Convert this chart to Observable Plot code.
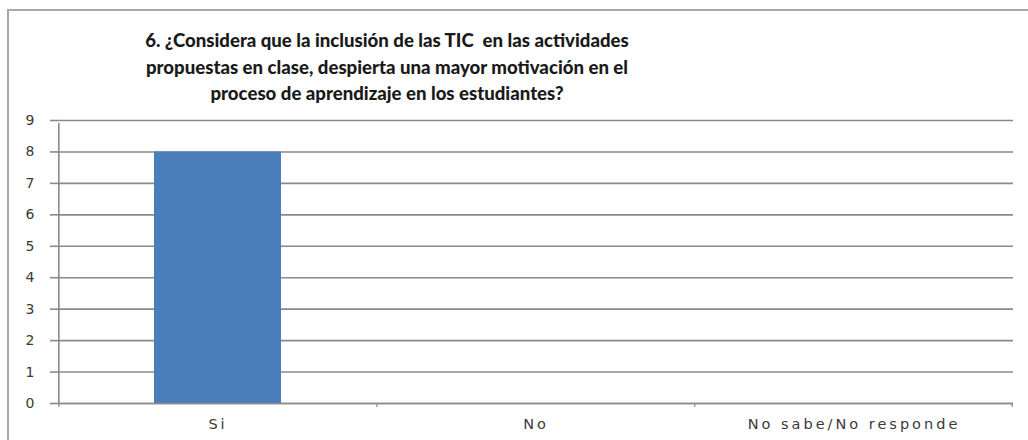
<!DOCTYPE html>
<html>
<head>
<meta charset="utf-8">
<script src="https://cdn.jsdelivr.net/npm/d3@7"></script>
<script src="https://cdn.jsdelivr.net/npm/@observablehq/plot@0.6"></script>
<style>
  html, body { margin: 0; padding: 0; background: #fff; }
  #wrap { position: relative; width: 1028px; height: 440px; overflow: hidden; background: #fff; }
  #frame { position: absolute; left: 7px; top: 9px; width: 1040px; height: 460px;
           border-left: 2px solid #a8a8a8; border-top: 2px solid #a8a8a8; box-sizing: border-box; }
  #title { position: absolute; left: 87px; width: 600px; top: 27px; text-align: center;
           font-family: Lato, "Open Sans", sans-serif; font-weight: 900; font-size: 18.6px;
           line-height: 26.5px; color: #1a1a1a; }
  #title div { display: block; white-space: pre; }
  #chart { position: absolute; left: 0; top: 110px; }
  #chart svg text { font-family: "DejaVu Sans", Verdana, sans-serif; fill: #3a3a3a; }
  #chart .xlab text { letter-spacing: 3px; }
</style>
</head>
<body>
<div id="wrap">
  <div id="frame"></div>
  <div id="title"></div>
  <div id="chart"></div>
</div>
<script>
const titleLines = [
  "6. ¿Considera que la inclusión de las TIC  en las actividades",
  "propuestas en clase, despierta una mayor motivación en el",
  "proceso de aprendizaje en los estudiantes?"
];
const categories = ["Si", "No", "No sabe/No responde"];
const values = [8, 0, 0];
const yTicks = [0, 1, 2, 3, 4, 5, 6, 7, 8, 9];

const t = document.getElementById("title");
titleLines.forEach(l => { const d = document.createElement("div"); d.textContent = l; t.appendChild(d); });

const data = categories.map((c, i) => ({category: c, value: values[i]}));

const W = 1028, H = 330, mL = 58, mR = 15, mT = 10, mB = 37;
const step = (W - mL - mR) / categories.length;
const axisColor = "#8a8a8a";

const chart = Plot.plot({
  width: W, height: H,
  marginLeft: mL, marginRight: mR, marginTop: mT, marginBottom: mB,
  style: {fontSize: "13px", background: "transparent"},
  x: {type: "band", domain: categories, paddingInner: 0.6, paddingOuter: 0.3, align: 0.5, label: null},
  y: {type: "linear", domain: [0, 9], label: null},
  marks: [
    Plot.gridY(yTicks, {stroke: axisColor, strokeOpacity: 1, strokeWidth: 1.6}),
    Plot.barY(data, {x: "category", y: "value", fill: "#4a7ebb"}),
    Plot.ruleX([categories[0]], {x: d => d, y1: 0, y2: 9, dx: -step / 2, insetBottom: -3, stroke: axisColor, strokeWidth: 1.6}),
    Plot.ruleY([0], {stroke: axisColor, strokeWidth: 1.6}),
    Plot.ruleX(categories, {x: d => d, y1: 0, y2: 0, dx: -step / 2, insetBottom: -4, stroke: axisColor, strokeWidth: 1.2}),
    Plot.ruleX([categories[categories.length - 1]], {x: d => d, y1: 0, y2: 0, dx: step / 2 - 1, insetBottom: -4, stroke: axisColor, strokeWidth: 1.2}),
    Plot.axisY(yTicks, {tickSize: 8, tickPadding: 16, stroke: axisColor, strokeWidth: 1.6, fontSize: 14}),
    Plot.axisX({tickSize: 0, tickPadding: 15, fontSize: 14.5, className: "xlab"})
  ]
});
document.getElementById("chart").appendChild(chart);
</script>
</body>
</html>
